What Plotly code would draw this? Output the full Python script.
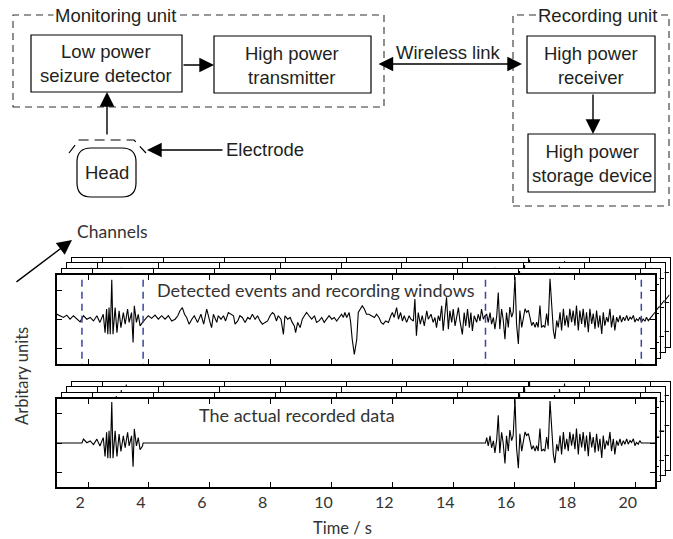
import plotly.graph_objects as go

W, H = 673, 539

# ---------------- data ----------------
time_s = [
    0.98, 1.08, 1.19, 1.30, 1.41, 1.52, 1.63, 1.74, 1.85, 1.96,
    2.07, 2.18, 2.29, 2.39, 2.50, 2.56, 2.61, 2.65, 2.69, 2.73,
    2.78, 2.82, 2.89, 2.95, 3.02, 3.08, 3.16, 3.22, 3.30, 3.35,
    3.43, 3.48, 3.52, 3.59, 3.65, 3.71, 3.79, 3.87, 3.98, 4.09,
    4.20, 4.31, 4.42, 4.53, 4.64, 4.75, 4.86, 4.95, 5.02, 5.10,
    5.17, 5.24, 5.32, 5.41, 5.49, 5.60, 5.71, 5.80, 5.90, 6.01,
    6.06, 6.12, 6.17, 6.23, 6.28, 6.37, 6.45, 6.52, 6.61, 6.70,
    6.78, 6.83, 6.92, 6.99, 7.07, 7.16, 7.25, 7.32, 7.40, 7.49,
    7.57, 7.65, 7.73, 7.82, 7.90, 7.98, 8.06, 8.12, 8.19, 8.25,
    8.34, 8.42, 8.47, 8.56, 8.64, 8.71, 8.78, 8.82, 8.89, 8.97,
    9.04, 9.11, 9.18, 9.26, 9.35, 9.44, 9.51, 9.59, 9.68, 9.76,
    9.84, 9.92, 10.01, 10.09, 10.17, 10.25, 10.33, 10.39, 10.44, 10.50,
    10.58, 10.63, 10.68, 10.75, 10.83, 10.88,
    10.94, 11.01, 11.08, 11.15, 11.23, 11.32, 11.41, 11.48, 11.56, 11.63,
    11.70, 11.78, 11.87, 11.95, 12.00, 12.06, 12.14, 12.20, 12.27, 12.33,
    12.39, 12.47, 12.55, 12.61, 12.69, 12.74, 12.79, 12.85, 12.92, 12.98,
    13.05, 13.13, 13.18, 13.27, 13.34, 13.40, 13.45, 13.51, 13.56, 13.62,
    13.67, 13.73, 13.78, 13.84, 13.89, 13.95, 14.00, 14.06, 14.11, 14.17,
    14.22, 14.30, 14.36, 14.41, 14.47, 14.53, 14.58, 14.63, 14.69, 14.77,
    14.82, 14.88, 14.93, 14.99, 15.04, 15.10, 15.15, 15.21, 15.26, 15.32,
    15.37, 15.43, 15.48, 15.53, 15.59, 15.64, 15.70, 15.75,
    15.81, 15.86, 15.92, 15.97, 16.03, 16.08, 16.14, 16.19, 16.25, 16.30,
    16.36, 16.41, 16.47, 16.52, 16.58, 16.63, 16.69, 16.74, 16.79, 16.85,
    16.90, 16.96, 17.01, 17.07, 17.12, 17.18, 17.23, 17.29, 17.34, 17.40,
    17.45, 17.51, 17.56, 17.62, 17.67, 17.73, 17.78, 17.83, 17.89, 17.94,
    18.00, 18.05, 18.11, 18.16, 18.22, 18.27, 18.33, 18.38, 18.44, 18.49,
    18.55, 18.60, 18.66, 18.71, 18.77, 18.82, 18.88, 18.93, 18.98, 19.04,
    19.09, 19.15, 19.20, 19.26, 19.31, 19.37, 19.42, 19.48, 19.53, 19.59,
    19.64, 19.70, 19.75, 19.81, 19.86, 19.92, 19.97, 20.02, 20.08, 20.13,
    20.19, 20.24, 20.30, 20.35, 20.41, 20.46, 20.52, 20.57, 20.63,
]
amplitude = [
    0.18, 0.13, 0.07, 0.15, 0.01, 0.13, 0.04, -0.08, 0.13, 0.01,
    0.07, -0.05, 0.13, -0.10, 0.18, -0.45, 0.36, -0.51, 0.41, -0.51,
    1.37, -0.51, 0.41, -0.45, 0.30, -0.28, 0.24, -0.16, 0.36, -0.10,
    0.24, -0.79, 0.47, -0.10, 0.18, -0.22, -0.10, 0.01, 0.13, 0.04,
    0.15, 0.01, 0.13, 0.01, 0.13, -0.05, 0.01, 0.13, 0.30, 0.41,
    0.18, 0.07, -0.16, 0.01, 0.13, -0.10, 0.18, -0.16, 0.36, -0.10,
    -0.28, 0.18, 0.07, -0.10, 0.13, 0.01, 0.13, -0.05, 0.24, 0.18,
    0.13, -0.16, -0.05, 0.13, 0.07, -0.10, 0.07, 0.01, 0.18, 0.01,
    0.13, -0.05, -0.16, -0.10, -0.05, 0.13, 0.24, 0.18, -0.05, 0.13,
    0.01, -0.51, 0.13, 0.01, 0.07, -0.10, -0.22, -0.45, -0.10, -0.28,
    0.01, 0.13, 0.24, 0.13, 0.01, 0.13, -0.10, -0.05, 0.07, -0.10,
    0.01, 0.13, 0.01, 0.07, -0.05, 0.07, 0.18, 0.07, 0.24, 0.07,
    0.24, -0.10, -0.68, -1.20, -0.68, 0.24,
    0.36, 0.47, 0.36, 0.18, 0.18, 0.13, 0.07, 0.18, 0.07, -0.10,
    -0.16, -0.05, -0.10, 0.13, 0.24, 0.07, 0.41, 0.01, 0.24, -0.05,
    0.13, -0.10, 0.13, 0.01, -0.05, 0.70, -0.56, 0.24, -0.16, 0.13,
    -0.22, 0.30, 0.01, 0.18, -0.10, 0.07, -0.28, 0.13, -0.05, 0.47,
    -0.39, 0.24, 0.76, -0.33, 0.30, -0.10, 0.36, -0.22, 0.13, 0.41,
    -0.05, -0.51, 0.24, -0.22, 0.36, -0.28, 0.24, -0.39, 0.13, -0.10,
    0.18, -0.05, 0.36, 0.01, 0.13, 0.18, -0.10, 0.24, -0.16, 0.07,
    -0.33, 0.13, 0.93, -0.33, 0.36, 0.01, -0.68, 0.24,
    -0.27, 0.43, 0.08, 0.25, 1.46, -0.15, -0.84, 0.31, -0.27, 0.08,
    0.37, 0.25, 0.31, 0.08, -0.21, -0.09, -0.27, -0.09, -0.27, 0.48,
    -0.27, -0.21, -0.27, 0.20, -0.21, 1.40, 0.37, -0.38, -0.67, -0.04,
    -0.27, 0.25, -0.38, 0.37, -0.21, 0.14, -0.27, 0.37, -0.09, 0.31,
    -0.21, 0.48, -0.38, 0.31, -0.15, 0.37, -0.27, 0.25, -0.44, 0.37,
    -0.15, 0.20, -0.32, 0.31, -0.27, 0.14, -0.50, 0.25, -0.21, 0.08,
    -0.09, 0.37, -0.27, 0.14, -0.38, 0.08, -0.09, 0.14, -0.09, 0.08,
    -0.04, 0.14, -0.04, 0.08, 0.02, 0.14, -0.09, 0.02, -0.04, 0.08,
    -0.09, 0.02, -0.06, 0.08, -0.04, 0.02, 0.08, 0.14, 0.25,
]
assert len(time_s) == len(amplitude)

window_start = [1.80, 15.06]
window_end = [3.81, 20.18]

x_tick_vals = [2, 4, 6, 8, 10, 12, 14, 16, 18, 20]
y_tick_vals = [-1, 0, 1]
x_range = [0.98, 20.63]

# bottom panel: only the data inside the recording windows (zero elsewhere)
rec_t, rec_v = [time_s[0]], [0.0]
for a, b in zip(window_start, window_end):
    rec_t.append(a); rec_v.append(0.0)
    for t, v in zip(time_s, amplitude):
        if a < t < b:
            rec_t.append(t); rec_v.append(v)
    rec_t.append(b); rec_v.append(0.0)
rec_t.append(time_s[-1]); rec_v.append(0.0)

# dashed window markers
win_x, win_y = [], []
for a, b in zip(window_start, window_end):
    for t in (a, b):
        win_x += [t, t, None]
        win_y += [-3, 3, None]

# ---------------- helpers for pixel placement ----------------
def X(px):
    return px / W

def Y(py):
    return 1 - py / H

TXT = "#231f20"
SANS = "Liberation Sans"
HUM = "Lato"

fig = go.Figure()
layout = {}

stacks = [
    dict(top=275, bot=364, yr=[-1.53, 1.53], kind="detected"),
    dict(top=399, bot=487, yr=[-1.47, 1.47], kind="recorded"),
]
offsets = [(14.5, 17.5), (9.5, 12), (4.5, 6), (0, 0)]  # back -> front

n = 0
for st in stacks:
    for k, (dx, dy) in enumerate(offsets):
        n += 1
        front = (k == len(offsets) - 1)
        xn = "xaxis" if n == 1 else f"xaxis{n}"
        yn = "yaxis" if n == 1 else f"yaxis{n}"
        xr = "x" if n == 1 else f"x{n}"
        yr = "y" if n == 1 else f"y{n}"
        show_lab = front and st["kind"] == "recorded"
        lw = 1.6 if front else 1.3
        layout[xn] = dict(
            domain=[X(57 + dx), X(655 + dx)], range=x_range, anchor=yr,
            tickmode="array", tickvals=x_tick_vals, ticks="inside", ticklen=5,
            tickwidth=1, tickcolor="black", mirror="ticks", showline=True,
            linewidth=lw, linecolor="black", showgrid=False, zeroline=False,
            showticklabels=show_lab, automargin=False, fixedrange=True,
            tickfont=dict(family=HUM, size=16, color="#333"),
        )
        if show_lab:
            layout[xn]["ticklabelshift"] = -8
        layout[yn] = dict(
            domain=[Y(st["bot"] - dy), Y(st["top"] - dy)], range=st["yr"], anchor=xr,
            tickmode="array", tickvals=y_tick_vals, ticks="inside", ticklen=5,
            tickwidth=1, tickcolor="black", mirror="ticks", showline=True,
            linewidth=lw, linecolor="black", showgrid=False, zeroline=False,
            showticklabels=False, automargin=False, fixedrange=True,
        )
        if st["kind"] == "detected":
            fig.add_trace(go.Scatter(x=time_s, y=amplitude, mode="lines",
                                     line=dict(color="black", width=1.1),
                                     xaxis=xr, yaxis=yr, hoverinfo="skip"))
            fig.add_trace(go.Scatter(x=win_x, y=win_y, mode="lines",
                                     line=dict(color="#3b47a0", width=1.5, dash="7px,5px"),
                                     xaxis=xr, yaxis=yr, hoverinfo="skip"))
        else:
            fig.add_trace(go.Scatter(x=rec_t, y=rec_v, mode="lines",
                                     line=dict(color="black", width=1.1),
                                     xaxis=xr, yaxis=yr, hoverinfo="skip"))

fig.update_layout(**layout)

# ---------------- block diagram ----------------
shapes = []
DASH = "7px,5px"

def rect(x0, y0, x1, y1, dash=None, color="black", width=1.2):
    ln = dict(color=color, width=width)
    if dash:
        ln["dash"] = dash
    shapes.append(dict(type="rect", xref="paper", yref="paper",
                       x0=X(x0), x1=X(x1), y0=Y(y1), y1=Y(y0),
                       line=ln, fillcolor="rgba(0,0,0,0)", layer="above"))

rect(13, 15, 384, 107, dash=DASH, color="#333", width=1.1)
rect(513, 15, 669, 206, dash=DASH, color="#333", width=1.1)
rect(31, 35, 182, 92)
rect(214, 36, 371, 93)
rect(527, 36, 655, 93)
rect(528, 134, 655, 192)

def rrect_path(x0, y0, x1, y1, r):
    return (f"M{X(x0 + r)},{Y(y0)} L{X(x1 - r)},{Y(y0)} Q{X(x1)},{Y(y0)} {X(x1)},{Y(y0 + r)} "
            f"L{X(x1)},{Y(y1 - r)} Q{X(x1)},{Y(y1)} {X(x1 - r)},{Y(y1)} "
            f"L{X(x0 + r)},{Y(y1)} Q{X(x0)},{Y(y1)} {X(x0)},{Y(y1 - r)} "
            f"L{X(x0)},{Y(y0 + r)} Q{X(x0)},{Y(y0)} {X(x0 + r)},{Y(y0)} Z")

shapes.append(dict(type="path", xref="paper", yref="paper",
                   path=rrect_path(77, 148, 136, 197, 14),
                   line=dict(color="black", width=1.2), layer="above"))
shapes.append(dict(type="path", xref="paper", yref="paper",
                   path=f"M{X(69)},{Y(153)} L{X(79)},{Y(140)} L{X(134)},{Y(140)} L{X(146)},{Y(153)}",
                   line=dict(color="black", width=1.2, dash="10px,6px"), layer="above"))

annotations = []

def text(s, px, py, size=18.5, family=SANS, color=TXT, xanchor="center", bg=None, angle=0):
    a = dict(text=s, x=X(px), y=Y(py), xref="paper", yref="paper", showarrow=False,
             xanchor=xanchor, yanchor="middle", textangle=angle,
             font=dict(family=family, size=size, color=color))
    if bg:
        a["bgcolor"] = bg
        a["borderpad"] = 1
    annotations.append(a)

def arrow(x0, y0, x1, y1, both=False, width=1.4, size=2.1):
    annotations.append(dict(text="", x=X(x1), y=Y(y1), xref="paper", yref="paper",
                            ax=x0 - x1, ay=y0 - y1, axref="pixel", ayref="pixel",
                            showarrow=True, arrowhead=2, startarrowhead=2,
                            arrowside="end+start" if both else "end",
                            arrowsize=size, startarrowsize=size, arrowwidth=width,
                            arrowcolor="black", standoff=0, startstandoff=0))

text("Monitoring unit", 115, 16, bg="white")
text("Recording unit", 597, 16, bg="white")
text("Low power<br>seizure detector", 106, 64)
text("High power<br>transmitter", 292, 65)
text("Wireless link", 448, 52)
text("High power<br>receiver", 591, 65)
text("High power<br>storage device", 592, 163)
text("Head", 107, 173)
text("Electrode", 224, 150, xanchor="left")

arrow(182, 65, 214, 65)
arrow(107, 136, 107, 92)
arrow(224, 150, 147, 150)
arrow(377, 64, 522, 64, both=True)
arrow(593, 93, 593, 134)
arrow(15, 283, 72, 240)

text("Channels", 75, 231, size=17.5, family=HUM, color="#333", xanchor="left")
text("Detected events and recording windows", 155, 290, size=18, family=HUM, color="#333", xanchor="left")
text("The actual recorded data", 197, 415, size=18, family=HUM, color="#333", xanchor="left")
text("Arbitary units", 22, 376, size=16.5, family=HUM, color="#333", angle=-90)
text("Time / s", 342, 528, size=16.5, family=HUM, color="#333")

fig.update_layout(
    width=W, height=H, margin=dict(l=0, r=0, t=0, b=0),
    paper_bgcolor="white", plot_bgcolor="white", showlegend=False,
    shapes=shapes, annotations=annotations,
)

fig.write_html(
    "out.html",
    config={"displayModeBar": False},
    post_script="document.body.style.margin='0';document.body.style.overflow='hidden';"
                "document.documentElement.style.overflow='hidden';",
)
